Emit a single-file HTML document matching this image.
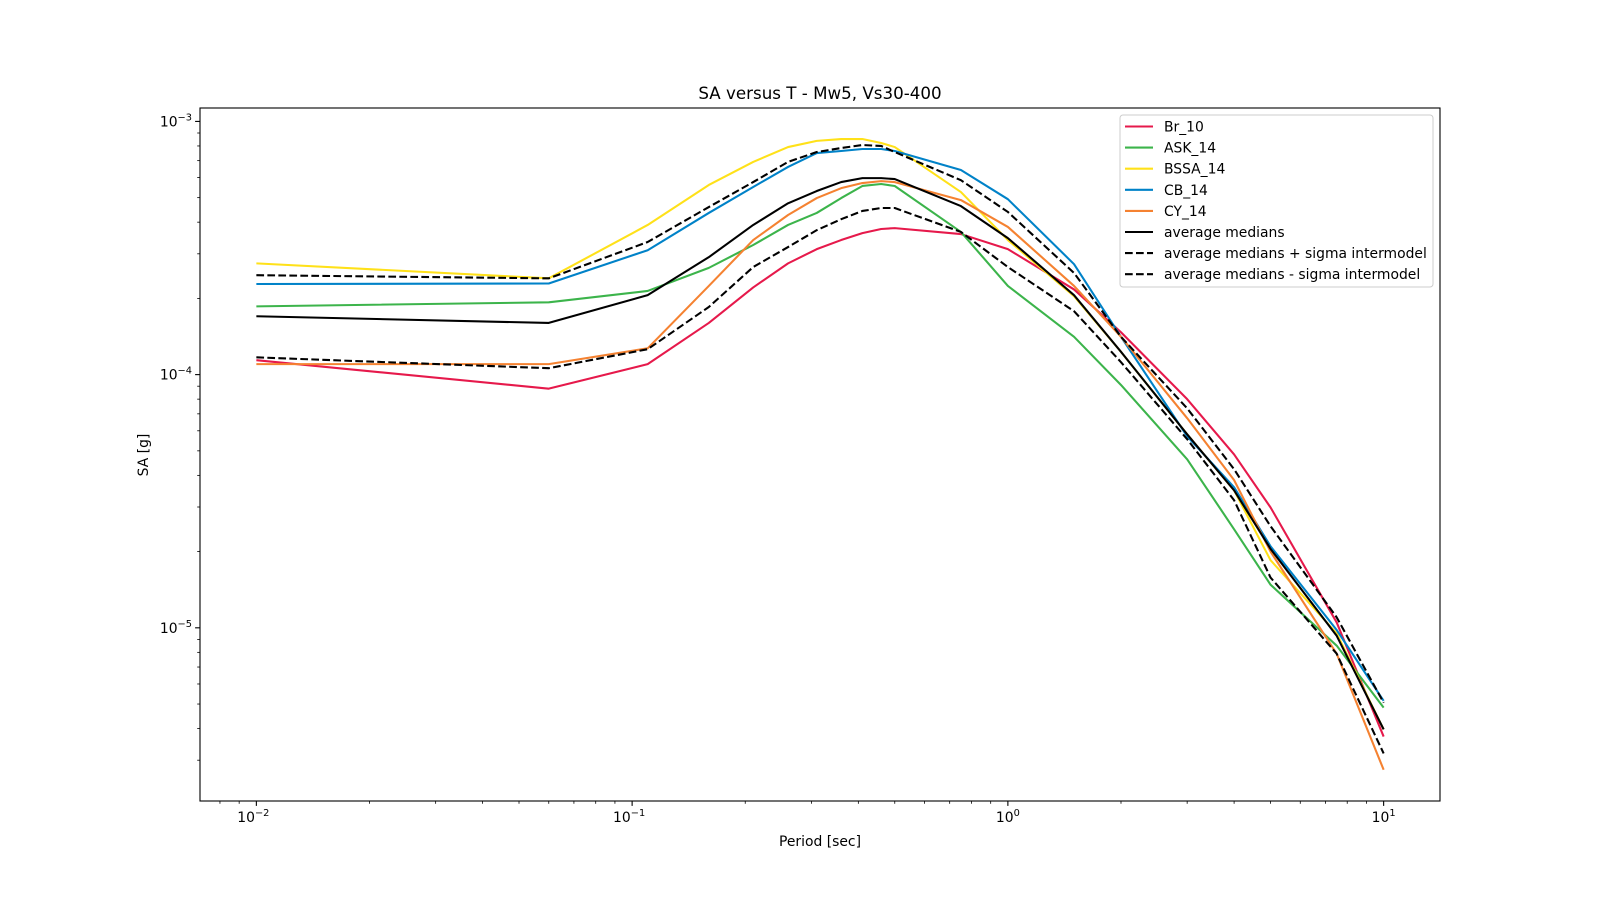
<!DOCTYPE html>
<html><head><meta charset="utf-8"><title>SA versus T</title>
<style>
html,body{margin:0;padding:0;background:#fff;}
svg{display:block;font-family:"DejaVu Sans","Liberation Sans",sans-serif;}
</style></head>
<body>
<svg id="chart" width="1600" height="900" viewBox="0 0 1600 900" xmlns="http://www.w3.org/2000/svg">
<rect x="0" y="0" width="1600" height="900" fill="#fff"/>
<text x="820" y="99" font-size="16.7" text-anchor="middle" fill="#000">SA versus T - Mw5, Vs30-400</text>
<text x="820" y="846" font-size="13.9" text-anchor="middle" fill="#000">Period [sec]</text>
<text transform="translate(148,455) rotate(-90)" font-size="13.9" text-anchor="middle" fill="#000">SA [g]</text>
<g id="plot"></g>
<g id="axes"></g>
<g id="legend"></g>
</svg>
<script>
const periods = [0.01,0.06,0.11,0.16,0.21,0.26,0.31,0.36,0.41,0.46,0.5,0.75,1,1.5,2,3,4,5,7.5,10];
const br10 = [1.14e-4,8.8e-5,1.10e-4,1.6e-4,2.21e-4,2.75e-4,3.13e-4,3.4e-4,3.62e-4,3.76e-4,3.79e-4,3.59e-4,3.13e-4,2.17e-4,1.47e-4,8.0e-5,4.84e-5,2.99e-5,1.05e-5,3.72e-6];
const ask14 = [1.86e-4,1.93e-4,2.14e-4,2.64e-4,3.25e-4,3.9e-4,4.35e-4,4.98e-4,5.56e-4,5.66e-4,5.56e-4,3.66e-4,2.24e-4,1.41e-4,9.1e-5,4.63e-5,2.45e-5,1.48e-5,8.5e-6,4.84e-6];
const bssa14 = [2.75e-4,2.40e-4,3.9e-4,5.61e-4,6.92e-4,7.92e-4,8.38e-4,8.52e-4,8.52e-4,8.22e-4,7.92e-4,5.26e-4,3.4e-4,2.04e-4,1.23e-4,5.81e-5,3.49e-5,1.85e-5,9.5e-6,3.97e-6];
const cb14 = [2.28e-4,2.29e-4,3.1e-4,4.35e-4,5.51e-4,6.61e-4,7.5e-4,7.64e-4,7.78e-4,7.78e-4,7.64e-4,6.43e-4,4.93e-4,2.73e-4,1.41e-4,5.71e-5,3.59e-5,2.1e-5,9.8e-6,5.15e-6];
const cy14 = [1.10e-4,1.10e-4,1.27e-4,2.24e-4,3.4e-4,4.27e-4,4.98e-4,5.45e-4,5.71e-4,5.81e-4,5.76e-4,4.89e-4,3.83e-4,2.24e-4,1.41e-4,6.73e-5,3.83e-5,2.0e-5,7.9e-6,2.75e-6];
const avgMed = [1.70e-4,1.6e-4,2.06e-4,2.91e-4,3.9e-4,4.75e-4,5.31e-4,5.76e-4,5.97e-4,5.97e-4,5.92e-4,4.63e-4,3.46e-4,2.06e-4,1.23e-4,5.81e-5,3.49e-5,2.05e-5,9.3e-6,3.97e-6];
const avgPlus = [2.47e-4,2.40e-4,3.34e-4,4.59e-4,5.76e-4,6.92e-4,7.57e-4,7.85e-4,8.07e-4,8.0e-4,7.57e-4,5.86e-4,4.39e-4,2.52e-4,1.41e-4,7.36e-5,4.23e-5,2.52e-5,1.1e-5,5.06e-6];
const avgMinus = [1.17e-4,1.06e-4,1.26e-4,1.85e-4,2.66e-4,3.19e-4,3.72e-4,4.11e-4,4.43e-4,4.55e-4,4.55e-4,3.66e-4,2.66e-4,1.78e-4,1.12e-4,5.56e-5,3.19e-5,1.58e-5,7.9e-6,3.19e-6];
const seriesNames = ["Br_10","ASK_14","BSSA_14","CB_14","CY_14","average medians","average medians + sigma intermodel","average medians - sigma intermodel"];
const xTickExps = [-2,-1,0,1];
const yTickExps = [-5,-4,-3];

const NS="http://www.w3.org/2000/svg";
const L=200,R=1440,T=108,B=801;
const xMin=-2.15,xMax=1.15,yMin=-5.684,yMax=-2.947;
function xs(v){return L+(Math.log10(v)-xMin)/(xMax-xMin)*(R-L);}
function ys(v){return B-(Math.log10(v)-yMin)/(yMax-yMin)*(B-T);}
function mk(tag,attrs,parent){const e=document.createElementNS(NS,tag);for(const k in attrs)e.setAttribute(k,attrs[k]);parent.appendChild(e);return e;}

const plot=document.getElementById('plot');
const axes=document.getElementById('axes');
const legend=document.getElementById('legend');

const series=[
 {vals:br10,color:"#e6194b",dash:null,key:"br-10"},
 {vals:ask14,color:"#3cb44b",dash:null,key:"ask-14"},
 {vals:bssa14,color:"#ffe119",dash:null,key:"bssa-14"},
 {vals:cb14,color:"#0082c8",dash:null,key:"cb-14"},
 {vals:cy14,color:"#f58231",dash:null,key:"cy-14"},
 {vals:avgMed,color:"#000000",dash:null,key:"average-medians"},
 {vals:avgPlus,color:"#000000",dash:"7.7,3.3",key:"average-plus-sigma"},
 {vals:avgMinus,color:"#000000",dash:"7.7,3.3",key:"average-minus-sigma"}
];
series.forEach((s,i)=>{
  const d=s.vals.map((v,j)=>(j?'L':'M')+xs(periods[j]).toFixed(2)+','+ys(v).toFixed(2)).join(' ');
  const p=mk('path',{d:d,fill:'none',stroke:s.color,'stroke-width':2.08,'stroke-linejoin':'round'},plot);
  if(s.dash)p.setAttribute('stroke-dasharray',s.dash);
  
  
});

const fr=mk('rect',{x:L,y:T,width:R-L,height:B-T,fill:'none',stroke:'#000','stroke-width':1.1},axes);



function powLabel(x,y,exp,anchor,parent,name){
  const t=mk('text',{x:x,y:y,'font-size':13.9,'text-anchor':anchor,fill:'#000'},parent);
  
  
  t.appendChild(document.createTextNode('10'));
  const ts=mk('tspan',{dy:-6,'font-size':9.8},t);
  ts.textContent='\u2212'+Math.abs(exp);
}
xTickExps.forEach(e=>{
  const x=xs(Math.pow(10,e));
  const ln=mk('line',{x1:x,x2:x,y1:B,y2:B+4.9,stroke:'#000','stroke-width':1.1},axes);
  
  
  if(e<0){powLabel(x-3,B+21,e,'middle',axes,'x-tick-label');}
  else{
    const t=mk('text',{x:x,y:B+21,'font-size':13.9,'text-anchor':'middle',fill:'#000'},axes);
    
    
    t.appendChild(document.createTextNode('10'));
    const ts=mk('tspan',{dy:-6,'font-size':9.8},t);ts.textContent=String(e);
  }
});
for(let e=-3;e<=1;e++){for(let m=2;m<=9;m++){const lv=e+Math.log10(m);if(lv<xMin||lv>xMax)continue;
  const x=xs(Math.pow(10,lv));
  const ln=mk('line',{x1:x,x2:x,y1:B,y2:B+2.8,stroke:'#000','stroke-width':0.8},axes);
  
  
}}
yTickExps.forEach(e=>{
  const y=ys(Math.pow(10,e));
  const ln=mk('line',{x1:L-4.9,x2:L,y1:y,y2:y,stroke:'#000','stroke-width':1.1},axes);
  
  
  powLabel(L-8,y+5,e,'end',axes,'y-tick-label');
});
for(let e=-6;e<=-3;e++){for(let m=2;m<=9;m++){const lv=e+Math.log10(m);if(lv<yMin||lv>yMax)continue;
  const y=ys(Math.pow(10,lv));
  const ln=mk('line',{x1:L-2.8,x2:L,y1:y,y2:y,stroke:'#000','stroke-width':0.8},axes);
  
  
}}
const lb=mk('rect',{x:1120,y:115,width:313,height:172,rx:3,fill:'#fff','fill-opacity':0.8,stroke:'#ccc','stroke-width':1},legend);


series.forEach((s,i)=>{
  const y=126.5+i*21.1;
  const g=mk('g',{},legend);
  
  
  const l=mk('line',{x1:1125,x2:1153,y1:y,y2:y,stroke:s.color,'stroke-width':2.08},g);
  if(s.dash)l.setAttribute('stroke-dasharray',s.dash);
  const t=mk('text',{x:1164,y:y+5,'font-size':13.9,fill:'#000'},g);
  t.textContent=seriesNames[i];
});
</script>
</body></html>
